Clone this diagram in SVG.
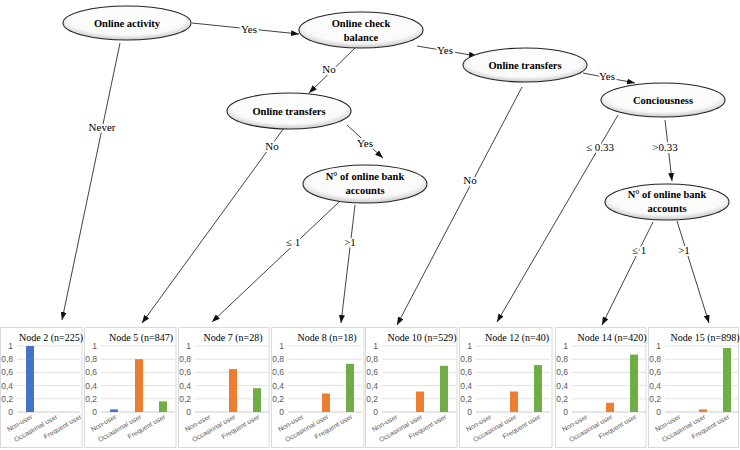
<svg xmlns="http://www.w3.org/2000/svg" xmlns:xlink="http://www.w3.org/1999/xlink" width="740" height="450" viewBox="0 0 740 450">
<style>
.nt{font-family:'Liberation Serif','DejaVu Serif','Times New Roman',serif;font-weight:bold;font-size:10.5px;fill:#000;text-anchor:middle}
.el{fill:url(#eg);stroke:#222;stroke-width:1.1}
.cn{stroke:#111;stroke-width:0.8;fill:none}
.lb{font-family:'Liberation Serif','DejaVu Serif','Times New Roman',serif;font-size:11px;fill:#000;text-anchor:middle;stroke:#fff;stroke-width:4;paint-order:stroke;stroke-linejoin:round}
.pn{fill:#fff;stroke:#d9d9d9;stroke-width:1}
.gr{stroke:#d9d9d9;stroke-width:0.8}
.ax{stroke:#bfbfbf;stroke-width:0.8}
.yl{font-family:'Liberation Sans',Arial,sans-serif;font-size:8.5px;fill:#595959;text-anchor:end}
.xl{font-family:'Liberation Sans',Arial,sans-serif;font-size:6.8px;fill:#595959;text-anchor:end}
.tt{font-family:'Liberation Serif','DejaVu Serif','Times New Roman',serif;font-size:10px;fill:#000;text-anchor:middle}
.b{fill:#4472C4}.o{fill:#ED7D31}.g{fill:#70AD47}
</style>
<defs>
<radialGradient id="eg" cx="0.5" cy="0.4" r="0.6">
<stop offset="0" stop-color="#fff"/>
<stop offset="0.75" stop-color="#fafafa"/>
<stop offset="1" stop-color="#c8c8c8"/>
</radialGradient>
<marker id="ar" markerUnits="userSpaceOnUse" markerWidth="8" markerHeight="6" refX="8" refY="3" orient="auto">
<path d="M0,0 L8,3 L0,6 z" fill="#111"/>
</marker>
<g id="frame">
<line class="gr" x1="17" y1="346" x2="91" y2="346"/>
<line class="gr" x1="17" y1="359.2" x2="91" y2="359.2"/>
<line class="gr" x1="17" y1="372.4" x2="91" y2="372.4"/>
<line class="gr" x1="17" y1="385.6" x2="91" y2="385.6"/>
<line class="gr" x1="17" y1="398.8" x2="91" y2="398.8"/>
<line class="ax" x1="17" y1="412" x2="91" y2="412"/>
</g>
<g id="ylab">
<text class="yl" x="13" y="349">1</text>
<text class="yl" x="13" y="362.2">0,8</text>
<text class="yl" x="13" y="375.4">0,6</text>
<text class="yl" x="13" y="388.6">0,4</text>
<text class="yl" x="13" y="401.8">0,2</text>
<text class="yl" x="13" y="415">0</text>
</g>
<g id="xlab">
<text class="xl" transform="translate(33,418) rotate(-30)">Non-user</text>
<text class="xl" transform="translate(58,418) rotate(-30)">Occasional user</text>
<text class="xl" transform="translate(82,418) rotate(-30)">Frequent user</text>
</g>
</defs>
<rect width="740" height="450" fill="#fff"/>

<g id="connectors">
<line class="cn" x1="192" y1="23" x2="299" y2="34" marker-end="url(#ar)"/>
<line class="cn" x1="120" y1="43" x2="62" y2="320" marker-end="url(#ar)"/>
<line class="cn" x1="355" y1="48" x2="309" y2="93" marker-end="url(#ar)"/>
<line class="cn" x1="417" y1="46" x2="477" y2="56" marker-end="url(#ar)"/>
<line class="cn" x1="583" y1="73" x2="635" y2="83" marker-end="url(#ar)"/>
<line class="cn" x1="522" y1="87" x2="397" y2="325" marker-end="url(#ar)"/>
<line class="cn" x1="618" y1="115" x2="497" y2="322" marker-end="url(#ar)"/>
<line class="cn" x1="665" y1="120" x2="672" y2="181" marker-end="url(#ar)"/>
<line class="cn" x1="653" y1="222" x2="602" y2="325" marker-end="url(#ar)"/>
<line class="cn" x1="677" y1="221" x2="709" y2="323" marker-end="url(#ar)"/>
<line class="cn" x1="284" y1="128" x2="142" y2="323" marker-end="url(#ar)"/>
<line class="cn" x1="347" y1="125" x2="383" y2="158" marker-end="url(#ar)"/>
<line class="cn" x1="339" y1="202" x2="212" y2="322" marker-end="url(#ar)"/>
<line class="cn" x1="355" y1="205" x2="341" y2="323" marker-end="url(#ar)"/>
<text class="lb" x="249" y="33">Yes</text>
<text class="lb" x="102" y="131">Never</text>
<text class="lb" x="329" y="73">No</text>
<text class="lb" x="445" y="54">Yes</text>
<text class="lb" x="607" y="80">Yes</text>
<text class="lb" x="470" y="184">No</text>
<text class="lb" x="600" y="151">≤ 0.33</text>
<text class="lb" x="665" y="151">&gt;0.33</text>
<text class="lb" x="639" y="254">≤ 1</text>
<text class="lb" x="684" y="254">&gt;1</text>
<text class="lb" x="272" y="150">No</text>
<text class="lb" x="365" y="147">Yes</text>
<text class="lb" x="293" y="246">≤ 1</text>
<text class="lb" x="350" y="246">&gt;1</text>
</g>

<g id="n-online-activity">
<ellipse class="el" cx="127" cy="23" rx="64" ry="17"/>
<text class="nt" x="127" y="27">Online activity</text>
</g>
<g id="n-check-balance">
<ellipse class="el" cx="361" cy="30" rx="62" ry="18"/>
<text class="nt" x="361" y="27">Online check</text>
<text class="nt" x="361" y="41">balance</text>
</g>
<g id="n-transfers-right">
<ellipse class="el" cx="525" cy="65" rx="62" ry="17"/>
<text class="nt" x="525" y="69">Online transfers</text>
</g>
<g id="n-conciousness">
<ellipse class="el" cx="663" cy="100" rx="62" ry="17"/>
<text class="nt" x="663" y="104">Conciousness</text>
</g>
<g id="n-transfers-left">
<ellipse class="el" cx="289" cy="111" rx="62" ry="18"/>
<text class="nt" x="289" y="115">Online transfers</text>
</g>
<g id="n-accounts-mid">
<ellipse class="el" cx="365" cy="184" rx="62" ry="19"/>
<text class="nt" x="365" y="180">N° of online bank</text>
<text class="nt" x="365" y="194">accounts</text>
</g>
<g id="n-accounts-right">
<ellipse class="el" cx="667" cy="202" rx="62" ry="18"/>
<text class="nt" x="667" y="198">N° of online bank</text>
<text class="nt" x="667" y="212">accounts</text>
</g>

<g id="node2">
<rect class="pn" x="0.5" y="327.5" width="81.5" height="120"/>
<line class="gr" x1="17" y1="346" x2="80" y2="346"/>
<line class="gr" x1="17" y1="359.2" x2="80" y2="359.2"/>
<line class="gr" x1="17" y1="372.4" x2="80" y2="372.4"/>
<line class="gr" x1="17" y1="385.6" x2="80" y2="385.6"/>
<line class="gr" x1="17" y1="398.8" x2="80" y2="398.8"/>
<line class="ax" x1="17" y1="412" x2="80" y2="412"/>
<use xlink:href="#ylab" href="#ylab"/>
<use xlink:href="#xlab" href="#xlab"/>
<rect class="b" x="26" y="346" width="8" height="66"/>
<text class="tt" x="51" y="341">Node 2 (n=225)</text>
</g>
<g id="node5">
<rect class="pn" x="84.5" y="327.5" width="91.5" height="120"/>
<use xlink:href="#frame" href="#frame" x="84"/>
<use xlink:href="#ylab" href="#ylab" x="84"/>
<use xlink:href="#xlab" href="#xlab" x="84"/>
<rect class="b" x="110" y="409.4" width="8" height="2.6"/>
<rect class="o" x="135" y="359.2" width="8" height="52.8"/>
<rect class="g" x="159" y="401.4" width="8" height="10.6"/>
<text class="tt" x="141" y="341">Node 5 (n=847)</text>
</g>
<g id="node7">
<rect class="pn" x="178.5" y="327.5" width="90.5" height="120"/>
<use xlink:href="#frame" href="#frame" x="178"/>
<use xlink:href="#ylab" href="#ylab" x="178"/>
<use xlink:href="#xlab" href="#xlab" x="178"/>
<rect class="o" x="229" y="369.1" width="8" height="42.9"/>
<rect class="g" x="253" y="388.2" width="8" height="23.8"/>
<text class="tt" x="233" y="341">Node 7 (n=28)</text>
</g>
<g id="node8">
<rect class="pn" x="271.5" y="327.5" width="92.5" height="120"/>
<use xlink:href="#frame" href="#frame" x="271"/>
<use xlink:href="#ylab" href="#ylab" x="271"/>
<use xlink:href="#xlab" href="#xlab" x="271"/>
<rect class="o" x="322" y="393.5" width="8" height="18.5"/>
<rect class="g" x="346" y="363.8" width="8" height="48.2"/>
<text class="tt" x="327" y="341">Node 8 (n=18)</text>
</g>
<g id="node10">
<rect class="pn" x="365.5" y="327.5" width="91.5" height="120"/>
<use xlink:href="#frame" href="#frame" x="365"/>
<use xlink:href="#ylab" href="#ylab" x="365"/>
<use xlink:href="#xlab" href="#xlab" x="365"/>
<rect class="o" x="416" y="391.5" width="8" height="20.5"/>
<rect class="g" x="440" y="365.8" width="8" height="46.2"/>
<text class="tt" x="422" y="341">Node 10 (n=529)</text>
</g>
<g id="node12">
<rect class="pn" x="459.5" y="327.5" width="92.5" height="120"/>
<use xlink:href="#frame" href="#frame" x="459"/>
<use xlink:href="#ylab" href="#ylab" x="459"/>
<use xlink:href="#xlab" href="#xlab" x="459"/>
<rect class="o" x="510" y="391.5" width="8" height="20.5"/>
<rect class="g" x="534" y="365.1" width="8" height="46.9"/>
<text class="tt" x="517" y="341">Node 12 (n=40)</text>
</g>
<g id="node14">
<rect class="pn" x="555.5" y="327.5" width="90.5" height="120"/>
<use xlink:href="#frame" href="#frame" x="555"/>
<use xlink:href="#ylab" href="#ylab" x="555"/>
<use xlink:href="#xlab" href="#xlab" x="555"/>
<rect class="o" x="606" y="402.8" width="8" height="9.2"/>
<rect class="g" x="630" y="354.6" width="8" height="57.4"/>
<text class="tt" x="612" y="341">Node 14 (n=420)</text>
</g>
<g id="node15">
<rect class="pn" x="648.5" y="327.5" width="90" height="120"/>
<use xlink:href="#frame" href="#frame" x="648"/>
<use xlink:href="#ylab" href="#ylab" x="648"/>
<use xlink:href="#xlab" href="#xlab" x="648"/>
<rect class="o" x="699" y="409.4" width="8" height="2.6"/>
<rect class="g" x="723" y="348" width="8" height="64"/>
<text class="tt" x="705" y="341">Node 15 (n=898)</text>
</g>
</svg>
